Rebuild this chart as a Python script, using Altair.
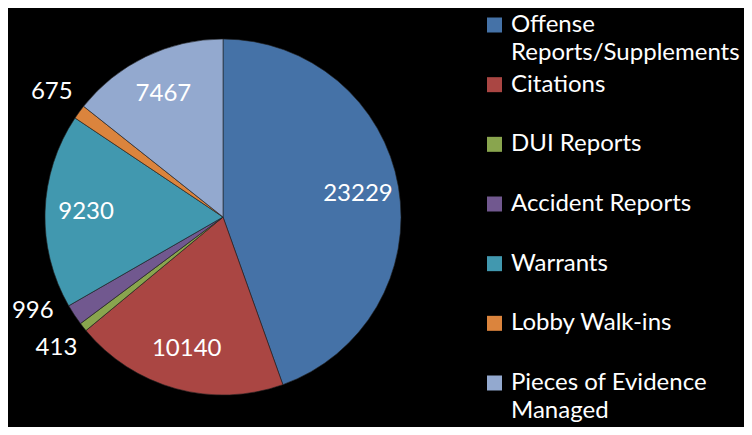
import math
import altair as alt
import pandas as pd

# ---- data ----
categories = [
    "Offense Reports/Supplements",
    "Citations",
    "DUI Reports",
    "Accident Reports",
    "Warrants",
    "Lobby Walk-ins",
    "Pieces of Evidence Managed",
]
legend_labels = [
    "Offense\nReports/Supplements",
    "Citations",
    "DUI Reports",
    "Accident Reports",
    "Warrants",
    "Lobby Walk-ins",
    "Pieces of Evidence\nManaged",
]
values = [23229, 10140, 413, 996, 9230, 675, 7467]
colors = ["#4572A7", "#AA4643", "#89A54E", "#71588F", "#4198AF", "#DB843D", "#93A9CF"]

# ---- layout / style ----
FONT = "Lato"
FS = 24
CX, CY = 215, 209          # pie centre inside the view
R = 178                    # pie radius
R_IN = 137                 # radius of labels drawn inside slices
R_OUT = 212                # radius of labels drawn outside slices
SMALL = 0.05               # slices smaller than this share get outside labels
MIN_GAP = math.radians(12) # minimal angular gap between outside labels

df = pd.DataFrame({"category": categories, "value": values, "idx": range(len(values)),
                   "legend": legend_labels})

total = float(sum(values))
cum = 0.0
angles, radii = [], []
for v in values:
    mid = (cum + v / 2) / total
    angles.append(2 * math.pi * mid)
    radii.append(R_OUT if v / total < SMALL else R_IN)
    cum += v
# spread outside labels that would collide
outside = sorted([i for i, r in enumerate(radii) if r == R_OUT], key=lambda i: angles[i])
for a, b in zip(outside, outside[1:]):
    if angles[b] - angles[a] < MIN_GAP:
        angles[b] = angles[a] + MIN_GAP
df["lab_theta"] = angles
df["lab_r"] = radii

color_scale = alt.Scale(domain=categories, range=colors)

base = alt.Chart(df)

arcs = base.mark_arc(radius=R, stroke="#222222", strokeWidth=0.6).encode(
    theta=alt.Theta("value:Q", stack=True),
    color=alt.Color("category:N", scale=color_scale, legend=None),
    order=alt.Order("idx:Q"),
    x=alt.value(CX),
    y=alt.value(CY),
)

labels = base.mark_text(font=FONT, fontSize=FS, color="white", align="center",
                        baseline="middle").encode(
    theta=alt.Theta("lab_theta:Q", scale=None),
    radius=alt.Radius("lab_r:Q", scale=None),
    text=alt.Text("value:Q", format="d"),
    x=alt.value(CX),
    y=alt.value(CY),
)

legend_y = alt.Y("idx:O", axis=None, scale=alt.Scale(type="point", range=[17, 375], padding=0))

leg_sq = base.mark_square(size=225, opacity=1, filled=True).encode(
    x=alt.value(486.5),
    y=legend_y,
    color=alt.Color("category:N", scale=color_scale, legend=None),
)

leg_txt = base.mark_text(font=FONT, fontSize=FS, color="white", align="left",
                         baseline="top", dy=-12, lineBreak="\n", lineHeight=28).encode(
    x=alt.value(503),
    y=legend_y,
    text="legend:N",
)

chart = (
    alt.layer(arcs, labels, leg_sq, leg_txt)
    .resolve_scale(theta="independent", radius="independent")
    .properties(
        width=736,
        height=419,
        padding=0,
        autosize=alt.AutoSizeParams(type="none"),
        background="black",
    )
    .configure_view(stroke=None)
)

chart.save("out.html", embed_options={"renderer": "svg", "actions": False})
